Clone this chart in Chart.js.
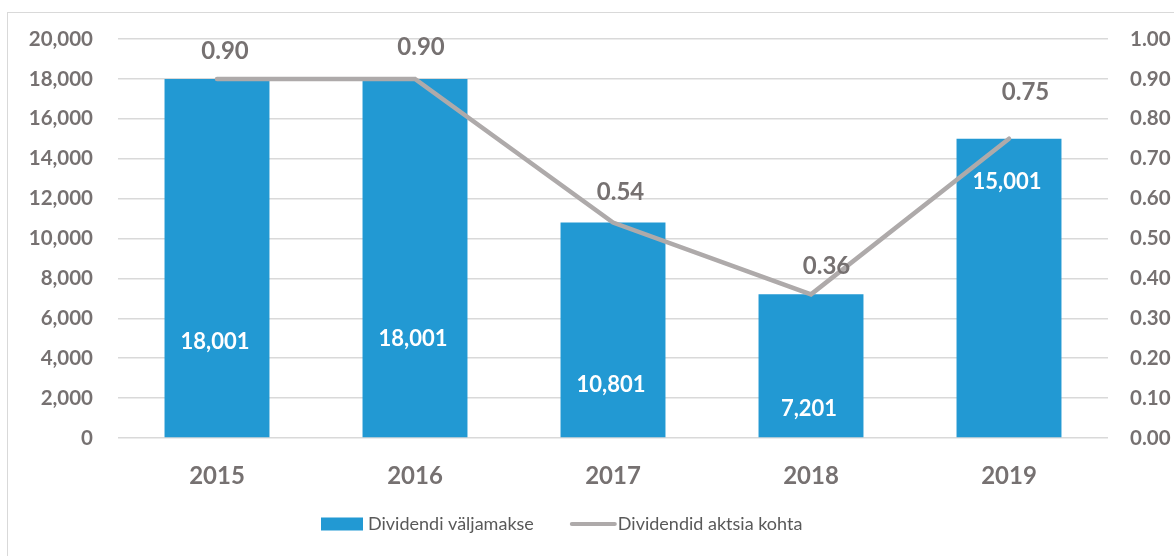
<!DOCTYPE html>
<html>
<head>
<meta charset="utf-8">
<script src="https://cdn.jsdelivr.net/npm/chart.js@4.4.1/dist/chart.umd.min.js"></script>
<style>
  html, body { margin: 0; padding: 0; background: #fff; overflow: hidden; }
  #frame { position: absolute; left: 7px; top: 12px; width: 1300px; height: 700px; border: 1.5px solid #d9d9d9; }
  #chart { position: absolute; left: 0; top: 0; }
</style>
</head>
<body>
<div id="frame"></div>
<canvas id="chart" width="1174" height="556"></canvas>
<script>
// Andmed
const years = ['2015', '2016', '2017', '2018', '2019'];
const payout = [18001, 18001, 10801, 7201, 15001];      // Dividendi väljamakse
const perShare = [0.90, 0.90, 0.54, 0.36, 0.75];        // Dividendid aktsia kohta

const blue = '#2299d3';
const grey = '#aeaaaa';
const textGrey = '#767171';
const fontFam = 'Lato, "Open Sans", sans-serif';

// väärtuste sildid tulpadel ja joonel
const valueLabels = {
    id: 'valueLabels',
    afterDatasetsDraw(chart, args, opts) {
        const ctx = chart.ctx;
        ctx.save();
        ctx.textAlign = 'center';
        ctx.textBaseline = 'middle';

        const barMeta = chart.getDatasetMeta(0);
        ctx.font = 'bold 22px ' + fontFam;
        ctx.fillStyle = '#ffffff';
        barMeta.data.forEach((el, i) => {
            const frac = opts.barPos[i];
            const y = el.base - frac * (el.base - el.y);
            ctx.fillText(payout[i].toLocaleString('en-US'), el.x - 2, y);
        });

        // Exceli sildid on käsitsi veidi nihutatud
        const lineMeta = chart.getDatasetMeta(1);
        ctx.font = 'bold 24px ' + fontFam;
        ctx.fillStyle = textGrey;
        lineMeta.data.forEach((el, i) => {
            ctx.fillText(perShare[i].toFixed(2), el.x + opts.lineDx[i], el.y + opts.lineDy[i]);
        });
        ctx.restore();
    }
};

// lihtne legend all
const bottomLegend = {
    id: 'bottomLegend',
    afterDraw(chart, args, opts) {
        const ctx = chart.ctx;
        const y = opts.y;
        let x = opts.x;
        ctx.save();
        ctx.font = '18px ' + fontFam;
        ctx.fillStyle = '#595959';
        ctx.textBaseline = 'middle';
        ctx.textAlign = 'left';

        const ds = chart.data.datasets;
        // tulp
        ctx.fillStyle = ds[0].backgroundColor;
        ctx.fillRect(x, y - 6.5, 42, 13);
        ctx.fillStyle = '#595959';
        ctx.fillText(ds[0].label, x + 47, y);
        x += 47 + ctx.measureText(ds[0].label).width + 36;
        // joon
        ctx.strokeStyle = ds[1].borderColor;
        ctx.lineWidth = 4;
        ctx.lineCap = 'round';
        ctx.beginPath();
        ctx.moveTo(x + 2, y);
        ctx.lineTo(x + 45, y);
        ctx.stroke();
        ctx.fillText(ds[1].label, x + 48, y);
        ctx.restore();
    }
};

const chart = new Chart(document.getElementById('chart').getContext('2d'), {
    data: {
        labels: years,
        datasets: [
            {
                type: 'bar',
                label: 'Dividendi väljamakse',
                data: payout,
                backgroundColor: blue,
                yAxisID: 'y',
                order: 2,
                barPercentage: 0.53,
                categoryPercentage: 1
            },
            {
                type: 'line',
                label: 'Dividendid aktsia kohta',
                data: perShare,
                borderColor: grey,
                borderWidth: 4.5,
                borderCapStyle: 'round',
                pointRadius: 0,
                tension: 0,
                yAxisID: 'y1',
                order: 1
            }
        ]
    },
    options: {
        responsive: false,
        animation: false,
        layout: { padding: { top: 39, bottom: 58, left: 0, right: 0 } },
        plugins: {
            legend: { display: false },
            tooltip: { enabled: false },
            valueLabels: {
                barPos: [0.265, 0.275, 0.246, 0.196, 0.856],
                lineDx: [8, 6, 7.5, 15.5, 16.5],
                lineDy: [-28, -31.5, -30.5, -28, -46]
            },
            bottomLegend: { x: 321, y: 524 }
        },
        scales: {
            x: {
                grid: { display: false, drawTicks: false },
                border: { display: false },
                ticks: {
                    color: textGrey,
                    padding: 24,
                    font: { family: fontFam, size: 24, weight: 'bold' }
                },
                afterFit(scale) { scale.height = 60; }
            },
            y: {
                position: 'left',
                min: 0,
                max: 20000,
                grid: { color: '#d9d9d9', lineWidth: 1.5, drawTicks: false },
                border: { display: false },
                ticks: {
                    stepSize: 2000,
                    color: textGrey,
                    padding: 25,
                    font: { family: fontFam, size: 20.5, weight: 'bold' },
                    callback: v => v.toLocaleString('en-US')
                },
                afterFit(scale) { scale.width = 118; }
            },
            y1: {
                position: 'right',
                min: 0,
                max: 1,
                grid: { drawOnChartArea: false, drawTicks: false },
                border: { display: false },
                ticks: {
                    stepSize: 0.1,
                    color: textGrey,
                    padding: 22,
                    font: { family: fontFam, size: 20.5, weight: 'bold' },
                    callback: v => v.toFixed(2)
                },
                afterFit(scale) { scale.width = 66; }
            }
        }
    },
    plugins: [valueLabels, bottomLegend]
});
</script>
</body>
</html>
